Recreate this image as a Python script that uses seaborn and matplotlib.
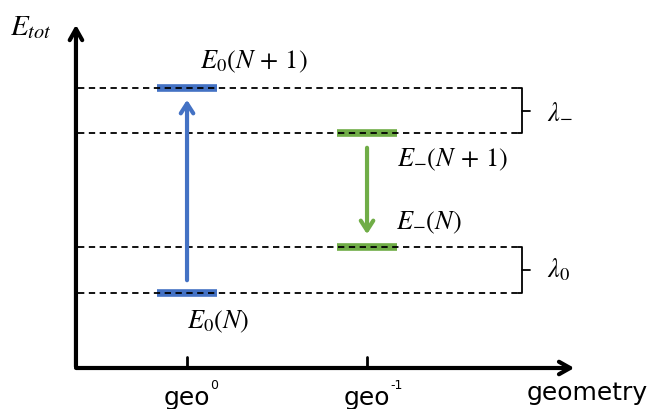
import pandas as pd
import matplotlib.pyplot as plt
import seaborn as sns

# geometries on the x axis and the energy levels (arbitrary units)
geo_base = ['geo', 'geo']
geo_sup = ['0', '-1']
level_names = ['E0(N)', 'E0(N+1)', 'E-(N)', 'E-(N+1)']
level_labels = [r'$E_0(N)$', r'$E_0(N\,+\,1)$', r'$E_{-}(N)$', r'$E_{-}(N\,+\,1)$']
level_energy = [0.75, 2.80, 1.21, 2.35]
level_geo = [0, 0, 1, 1]
level_state = ['blue', 'blue', 'green', 'green']
gap_names = [r'$\lambda_0$', r'$\lambda_{-}$']

sns.set_style("white")
plt.rcParams['mathtext.fontset'] = 'stix'
plt.rcParams['text.color'] = 'black'

blue = '#4472C4'
green = '#70AD47'
half = 0.167

fig = plt.figure(figsize=(6.5, 4.09), dpi=100)
ax = fig.add_axes([0, 0, 1, 1])
ax.set_xlim(-1.039, 2.572)
ax.set_ylim(-0.41, 3.68)
ax.axis('off')

# level bars
rows = []
for n, e, g, s in zip(level_names, level_energy, level_geo, level_state):
    rows.append({'level': n, 'x': g - half, 'E': e, 'state': s})
    rows.append({'level': n, 'x': g + half, 'E': e, 'state': s})
df = pd.DataFrame(rows)
sns.lineplot(data=df, x='x', y='E', hue='state', units='level', estimator=None,
             palette={'blue': blue, 'green': green}, lw=5.5, legend=False, ax=ax,
             zorder=2, solid_capstyle='butt')

# dashed reference lines
x0, x1 = -0.606, 1.861
for e in level_energy:
    ax.plot([x0, x1], [e, e], color='black', ls=(0, (3.5, 2.5)), lw=1.3, zorder=3)

# braces for the two gaps
pairs = [(level_energy[0], level_energy[2]), (level_energy[3], level_energy[1])]
for (lo, hi), name in zip(pairs, gap_names):
    mid = (lo + hi) / 2
    ax.plot([x1 - 0.02, x1, x1, x1 - 0.02], [lo, lo, hi, hi], color='black', lw=1.3)
    ax.plot([x1, x1 + 0.045], [mid, mid], color='black', lw=1.3)
    ax.text(x1 + 0.14, mid, name, fontsize=19, va='center', ha='left')

# transition arrows
ax.annotate('', xy=(0, level_energy[1] - 0.09), xytext=(0, level_energy[0] + 0.1),
            arrowprops=dict(arrowstyle='->,head_length=0.7,head_width=0.45',
                            color=blue, lw=3))
ax.annotate('', xy=(1, level_energy[2] + 0.1), xytext=(1, level_energy[3] - 0.12),
            arrowprops=dict(arrowstyle='->,head_length=0.7,head_width=0.45',
                            color=green, lw=3))

# level labels
offsets = [(0.0, -0.29), (0.072, 0.26), (0.161, 0.24), (0.167, -0.27)]
for lab, e, g, (dx, dy) in zip(level_labels, level_energy, level_geo, offsets):
    ax.text(g + dx, e + dy, lab, fontsize=19, va='center', ha='left')

# axes with arrows
ya = -0.617
ax.annotate('', xy=(ya, 3.46), xytext=(ya, -0.015),
            arrowprops=dict(arrowstyle='->,head_length=0.8,head_width=0.45',
                            color='black', lw=3))
ax.annotate('', xy=(2.167, 0), xytext=(ya - 0.015, 0),
            arrowprops=dict(arrowstyle='->,head_length=0.8,head_width=0.45',
                            color='black', lw=3))
ax.text(-0.983, 3.41, r'$E_{tot}$', fontsize=21, va='center', ha='left')

# geometry ticks
for i, (b, s) in enumerate(zip(geo_base, geo_sup)):
    ax.plot([i, i], [0, 0.11], color='black', lw=2)
    ax.text(i, -0.37, b, fontsize=18, va='baseline', ha='center', family='DejaVu Sans')
    ax.text(i + 0.13, -0.21, s, fontsize=9, va='baseline', ha='left',
            family='DejaVu Sans')
ax.text(1.889, -0.32, 'geometry', fontsize=18, va='baseline', ha='left',
        family='DejaVu Sans')

fig.savefig('out.png', dpi=100)
